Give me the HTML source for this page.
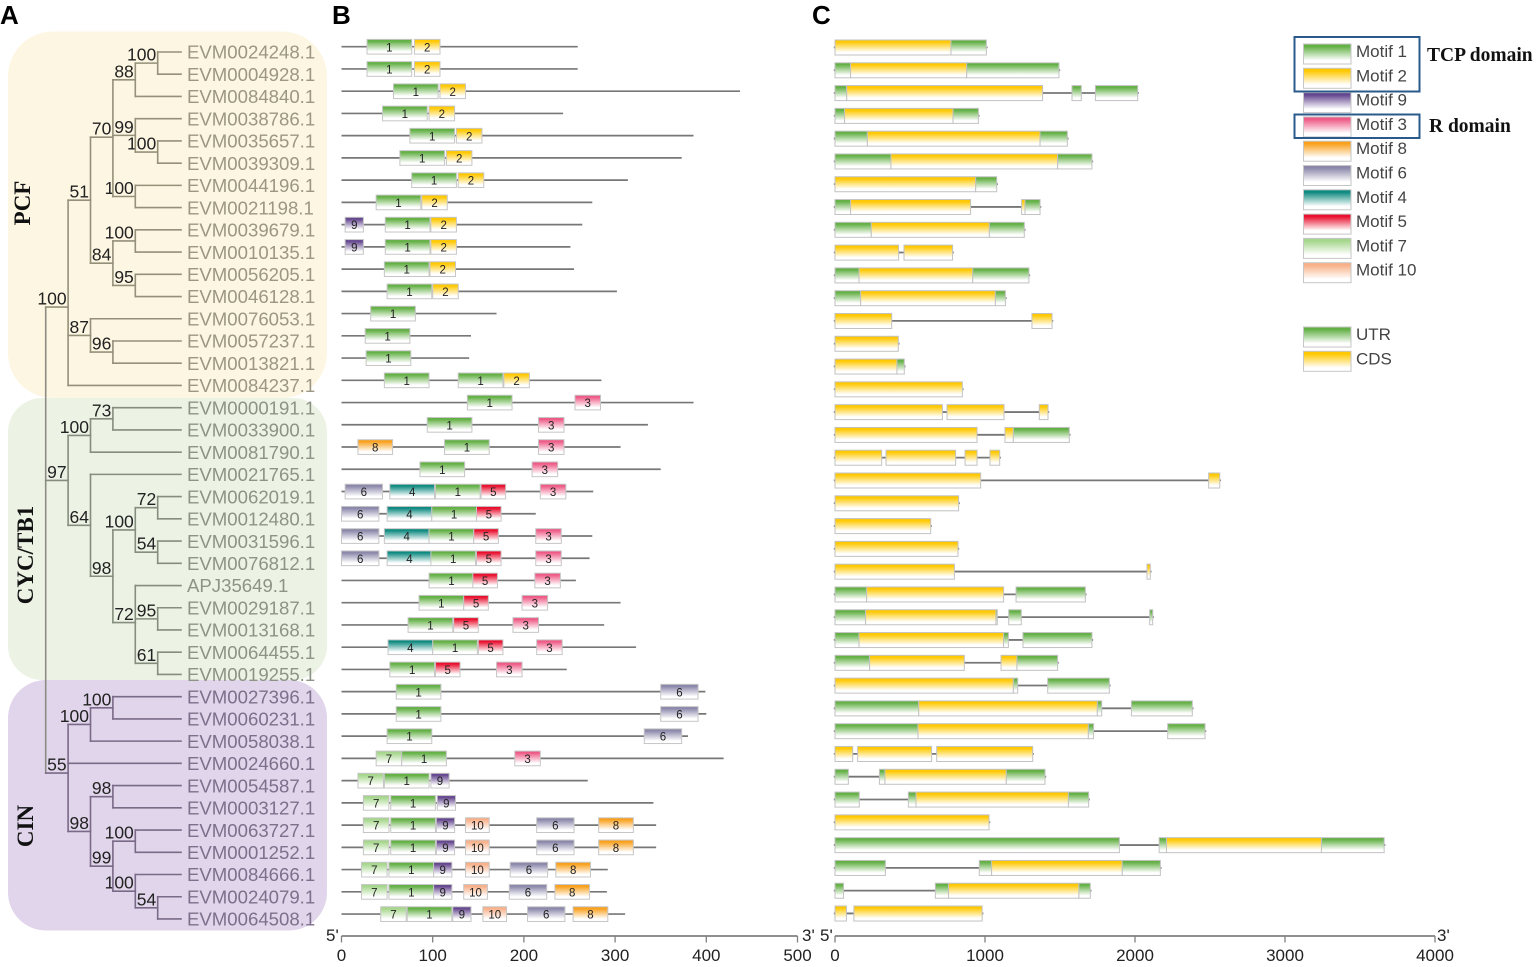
<!DOCTYPE html>
<html lang="en">
<head>
<meta charset="utf-8">
<title>TCP gene family: phylogeny, motifs and gene structure</title>
<style>
html,body{margin:0;padding:0;background:#fff;width:1540px;height:967px;overflow:hidden}
svg{display:block}
text{font-family:"Liberation Sans",sans-serif}
.serif{font-family:"Liberation Serif",serif;font-weight:bold}
</style>
</head>
<body>
<svg id="figure" xmlns="http://www.w3.org/2000/svg" width="1540" height="967" viewBox="0 0 1540 967">
<defs id="defs"></defs>
<rect width="1540" height="967" fill="#fff"/>
<rect x="8" y="31.5" width="319" height="366.5" rx="45" fill="#fdf6e2"/>
<rect x="8" y="398" width="319" height="282" rx="34" fill="#ecf3e5"/>
<rect x="8" y="680" width="319" height="250.5" rx="38" fill="#e0d5ea"/>
<text x="0" y="24" font-size="26" font-weight="bold" fill="#000">A</text>
<text x="332" y="24" font-size="26" font-weight="bold" fill="#000">B</text>
<text x="812" y="24" font-size="26" font-weight="bold" fill="#000">C</text>
<text class="serif" transform="translate(30,203) rotate(-90)" text-anchor="middle" font-size="23" fill="#111">PCF</text>
<text class="serif" transform="translate(33,555) rotate(-90)" text-anchor="middle" font-size="23" fill="#111">CYC/TB1</text>
<text class="serif" transform="translate(33,826) rotate(-90)" text-anchor="middle" font-size="23" fill="#111">CIN</text>
<g id="tree"></g>
<g id="motifs"></g>
<g id="genes"></g>
<g id="axes"></g>
<g id="legend"></g>
<rect x="1294.5" y="37" width="125" height="54.5" fill="none" stroke="#2a5a8c" stroke-width="2"/>
<rect x="1294.5" y="114.5" width="125" height="23.5" fill="none" stroke="#2a5a8c" stroke-width="2"/>
<text class="serif" x="1427" y="61" font-size="19.5" fill="#111">TCP domain</text>
<text class="serif" x="1429" y="132" font-size="19.5" fill="#111">R domain</text>
</svg>
<script>
const geneNames = ["EVM0024248.1","EVM0004928.1","EVM0084840.1","EVM0038786.1","EVM0035657.1","EVM0039309.1","EVM0044196.1","EVM0021198.1","EVM0039679.1","EVM0010135.1","EVM0056205.1","EVM0046128.1","EVM0076053.1","EVM0057237.1","EVM0013821.1","EVM0084237.1","EVM0000191.1","EVM0033900.1","EVM0081790.1","EVM0021765.1","EVM0062019.1","EVM0012480.1","EVM0031596.1","EVM0076812.1","APJ35649.1","EVM0029187.1","EVM0013168.1","EVM0064455.1","EVM0019255.1","EVM0027396.1","EVM0060231.1","EVM0058038.1","EVM0024660.1","EVM0054587.1","EVM0003127.1","EVM0063727.1","EVM0001252.1","EVM0084666.1","EVM0024079.1","EVM0064508.1"];

// Tree: [bootstrap, ...children]; a number is a leaf index into geneNames.
const pcfTree = ["100",
  ["51",
    ["70",
      ["88", ["100",0,1], 2],
      ["99", 3, ["100",4,5]],
      ["100",6,7]],
    ["84", ["100",8,9], ["95",10,11]]],
  ["87", 12, ["96",13,14]],
  15];
const cycTree = ["97",
  ["100", ["73",16,17], 18],
  ["64", 19,
    ["98",
      ["100", ["72",20,21], ["54",22,23]],
      ["72", 24, ["95",25,26], ["61",27,28]]]]];
const cinTree = ["55",
  ["100", ["100",29,30], 31],
  32,
  ["98", ["98",33,34],
    ["99", ["100",35,36], ["100",37,["54",38,39]]]]];

// Panel B: protein length (aa)
const proteinLengths = [259,259,437,243,386,373,314,275,264,251,255,302,170,142,140,285,386,336,306,350,276,213,275,272,257,306,288,323,247,399,400,380,419,270,342,345,345,292,291,311];
// Panel B: motif length (aa) per motif id
const motifLengths = {1:49,2:28,3:28,4:49,5:27,6:41,7:28,8:38,9:20,10:26};
// Panel B: [motif id, start aa] per protein
const motifHits = [
 [[1,28],[2,80]],[[1,28],[2,80]],[[1,57],[2,108]],[[1,45],[2,96]],[[1,75],[2,126]],[[1,64],[2,115]],[[1,77],[2,128]],[[1,38],[2,88]],
 [[9,4],[1,48],[2,98]],[[9,4],[1,48],[2,98]],[[1,47],[2,97]],[[1,50],[2,100]],[[1,32]],[[1,26]],[[1,27]],[[1,47],[1,128],[2,178]],
 [[1,138],[3,256]],[[1,94],[3,216]],[[8,18],[1,113],[3,216]],[[1,86],[3,209]],
 [[6,4],[4,53],[1,103],[5,153],[3,218]],[[6,0],[4,50],[1,99],[5,148]],[[6,0],[4,47],[1,96],[5,145],[3,213]],[[6,0],[4,50],[1,98],[5,148],[3,213]],
 [[1,96],[5,144],[3,212]],[[1,85],[5,134],[3,198]],[[1,73],[5,123],[3,188]],[[4,51],[1,100],[5,150],[3,214]],[[1,53],[5,103],[3,170]],
 [[1,60],[6,350]],[[1,60],[6,350]],[[1,50],[6,332]],[[7,38],[1,66],[3,190]],[[7,18],[1,47],[9,98]],[[7,24],[1,54],[9,105]],
 [[7,24],[1,54],[9,104],[10,136],[6,214],[8,282]],[[7,24],[1,54],[9,104],[10,136],[6,214],[8,282]],
 [[7,22],[1,52],[9,101],[10,136],[6,185],[8,235]],[[7,22],[1,52],[9,101],[10,134],[6,184],[8,234]],
 [[7,43],[1,72],[9,122],[10,155],[6,204],[8,254]]
];
// Panel C: exon features per gene row ["U"=UTR,"C"=CDS, start, end] in bp
const geneFeatures = [
 [["C",0,773],["U",773,1009]],
 [["U",0,104],["C",104,878],["U",878,1493]],
 [["U",0,78],["C",78,1384],["U",1580,1642],["U",1736,2018]],
 [["U",0,64],["C",64,787],["U",787,956]],
 [["U",0,216],["C",216,1367],["U",1367,1549]],
 [["U",0,373],["C",373,1484],["U",1484,1713]],
 [["C",0,938],["U",938,1078]],
 [["U",0,104],["C",104,904],["C",1244,1267],["U",1267,1367]],
 [["U",0,242],["C",242,1029],["U",1029,1262]],
 [["C",0,424],["C",460,784]],
 [["U",0,160],["C",160,918],["U",918,1293]],
 [["U",0,171],["C",171,1069],["U",1069,1136]],
 [["C",0,378],["C",1313,1447]],
 [["C",0,422]],
 [["C",0,413],["U",413,462]],
 [["C",0,849]],
 [["C",0,716],["C",747,1127],["C",1362,1420]],
 [["C",0,947],["C",1133,1189],["U",1189,1562]],
 [["C",0,311],["C",340,804],["C",867,947],["C",1033,1098]],
 [["C",0,971],["C",2491,2565]],
 [["C",0,824]],
 [["C",0,638]],
 [["C",0,820]],
 [["C",0,796],["C",2080,2102]],
 [["U",0,211],["C",211,1124],["U",1207,1669]],
 [["U",0,204],["C",204,1073],["U",1073,1082],["U",1158,1242],["U",2098,2118]],
 [["U",0,160],["C",160,1124],["U",1124,1156],["U",1253,1713]],
 [["U",0,231],["C",231,862],["C",1107,1213],["U",1213,1484]],
 [["C",0,1189],["U",1189,1218],["U",1418,1829]],
 [["U",0,558],["C",558,1749],["U",1749,1778],["U",1976,2382]],
 [["U",0,553],["C",553,1689],["U",1689,1724],["U",2218,2467]],
 [["C",0,118],["C",151,644],["C",678,1318]],
 [["U",0,89],["U",296,333],["C",333,1142],["U",1142,1400]],
 [["U",0,162],["U",489,540],["C",540,1556],["U",1556,1691]],
 [["C",0,1027]],
 [["U",0,1896],["U",2161,2210],["C",2210,3243],["U",3243,3661]],
 [["U",0,336],["U",962,1044],["C",1044,1915],["U",1915,2169]],
 [["U",0,57],["U",669,757],["C",757,1626],["U",1626,1702]],
 [["C",0,76],["C",126,981]]
];
const motifTicks = [0,100,200,300,400,500];
const geneTicks = [0,1000,2000,3000,4000];
const legendMotifs = [1,2,9,3,8,6,4,5,7,10];
const legendGeneParts = ["UTR","CDS"];

const motifColors = {1:"#63b045",2:"#ffc800",3:"#ee5a86",4:"#0e8a80",5:"#e90f2e",6:"#8b87aa",7:"#a5d68b",8:"#f9a01c",9:"#65478f",10:"#f8b088",U:"#63b045",C:"#ffc800"};

const SVGNS = "http://www.w3.org/2000/svg";
function mk(tag, attrs, parent, txt){
  const el = document.createElementNS(SVGNS, tag);
  for (const k in attrs) el.setAttribute(k, attrs[k]);
  if (txt !== undefined) el.textContent = txt;
  parent.appendChild(el);
  return el;
}
const defs = document.getElementById("defs");
Object.keys(motifColors).forEach(function(k){
  const g = mk("linearGradient", {id:"grad-"+k, x1:0, y1:0, x2:0, y2:1}, defs);
  mk("stop", {offset:"0", "stop-color":motifColors[k]}, g);
  mk("stop", {offset:"0.12", "stop-color":motifColors[k]}, g);
  mk("stop", {offset:"0.82", "stop-color":"#ffffff"}, g);
  mk("stop", {offset:"1", "stop-color":"#ffffff"}, g);
});

/* ---------- Panel A ---------- */
const treeGroup = document.getElementById("tree");
const leafY = function(i){ return 52 + 22.23 * i; };
const depthX = function(d){ return 45.7 + 22.4 * d; };
const TIP_X = 181;
function colourFor(y){ return y < 398 ? "#94907a" : (y < 680 ? "#858d7e" : "#7a6a88"); }
function textFor(y){ return y < 398 ? "#9b9782" : (y < 680 ? "#8c9487" : "#7e6f8c"); }
function seg(x1,y1,x2,y2,col){
  const l = mk("line",{x1:x1,y1:y1,x2:x2,y2:y2,stroke:col,"stroke-width":1.6,"stroke-linecap":"square"},treeGroup);
  
  
}
function layout(node, depth){
  if (typeof node === "number") return leafY(node);
  const ys = [];
  for (let i = 1; i < node.length; i++) ys.push(layout(node[i], depth + 1));
  const x = depthX(depth);
  const y = ys.reduce(function(a,b){return a+b;},0) / ys.length;
  const col = colourFor(y);
  seg(x, Math.min.apply(null,ys), x, Math.max.apply(null,ys), col);
  for (let i = 1; i < node.length; i++) {
    const c = node[i];
    const cy = ys[i-1];
    const toX = typeof c === "number" ? TIP_X : depthX(depth + 1);
    seg(x, cy, toX, cy, col);
  }
  const t = mk("text",{x:x-1.5,y:y-2.5,"text-anchor":"end","font-size":17.5,fill:"#222"},treeGroup,node[0]);
  
  
  return y;
}
const rootYs = [layout(pcfTree,1), layout(cycTree,1), layout(cinTree,1)];
const rootX = depthX(0);
seg(rootX, rootYs[0], rootX, rootYs[2], "#8c8c84");
rootYs.forEach(function(y){ seg(rootX, y, depthX(1), y, colourFor(y)); });
geneNames.forEach(function(n,i){
  const y = leafY(i);
  const t = mk("text",{x:187,y:y+6.7,"font-size":18.6,fill:textFor(y)},treeGroup,n);
  
  
});

/* ---------- Panel B ---------- */
const motifGroup = document.getElementById("motifs");
const xB = function(v){ return 341.5 + 0.912 * v; };
const yB = function(i){ return 46.7 + 22.24 * i; };
proteinLengths.forEach(function(len,i){
  const y = yB(i);
  const line = mk("line",{x1:xB(0),y1:y,x2:xB(len),y2:y,stroke:"#777","stroke-width":1.7},motifGroup);
  
  
  motifHits[i].forEach(function(h){
    const id = h[0], x0 = xB(h[1]), w = xB(h[1] + motifLengths[id]) - x0;
    const r = mk("rect",{x:x0,y:y-7.3,width:w,height:14.7,fill:"url(#grad-"+id+")",stroke:"#c6c6c6","stroke-width":1},motifGroup);
    
    
    const t = mk("text",{x:x0+w/2,y:y+4.6,"text-anchor":"middle","font-size":11.5,fill:"#222"},motifGroup,String(id));
    
    
  });
});

/* ---------- Panel C ---------- */
const geneGroup = document.getElementById("genes");
const xC = function(v){ return 835 + 0.15 * v; };
const yC = function(i){ return 47.4 + 22.79 * i; };
geneFeatures.forEach(function(feats,i){
  const y = yC(i);
  const end = feats[feats.length-1][2];
  const line = mk("line",{x1:xC(0)-1.2,y1:y,x2:xC(end)+1.2,y2:y,stroke:"#777","stroke-width":1.8},geneGroup);
  
  
  feats.forEach(function(f){
    const x0 = xC(f[1]), w = xC(f[2]) - x0;
    const r = mk("rect",{x:x0,y:y-7.4,width:w,height:15,fill:"url(#grad-"+f[0]+")",stroke:"#c2c2c2","stroke-width":1},geneGroup);
    
    
  });
});

/* ---------- Axes ---------- */
const axesGroup = document.getElementById("axes");
const AXIS_Y = 936;
function drawAxis(ticks, scale, name, leftEnd, rightEnd){
  const base = mk("line",{x1:scale(ticks[0]),y1:AXIS_Y,x2:scale(ticks[ticks.length-1]),y2:AXIS_Y,stroke:"#808080","stroke-width":1.7},axesGroup);
  
  
  ticks.forEach(function(v){
    const l = mk("line",{x1:scale(v),y1:AXIS_Y,x2:scale(v),y2:AXIS_Y+6.5,stroke:"#808080","stroke-width":1.3},axesGroup);
    
    
    const t = mk("text",{x:scale(v),y:961,"text-anchor":"middle","font-size":17,fill:"#222"},axesGroup,String(v));
    
    
  });
  const a = mk("text",{x:leftEnd,y:941,"font-size":17,fill:"#222"},axesGroup,"5'");
  
  
  const b = mk("text",{x:rightEnd,y:941,"font-size":17,fill:"#222"},axesGroup,"3'");
  
  
}
drawAxis(motifTicks, xB, 'motif-axis', 326, 802);
drawAxis(geneTicks, xC, 'gene-axis', 820, 1437);

/* ---------- Legend ---------- */
const legendGroup = document.getElementById("legend");
function legendEntry(label, key, top){
  const r = mk("rect",{x:1303.5,y:top,width:47.5,height:20,fill:"url(#grad-"+key+")",stroke:"#c6c6c6","stroke-width":1},legendGroup);
  
  
  const t = mk("text",{x:1356,y:top+13,"font-size":17,fill:"#444"},legendGroup,label);
  
  
}
legendMotifs.forEach(function(m,i){ legendEntry("Motif " + m, m, 44 + 24.3 * i); });
legendGeneParts.forEach(function(p,i){ legendEntry(p, p[0], 327 + 24.3 * i); });
</script>
</body>
</html>
